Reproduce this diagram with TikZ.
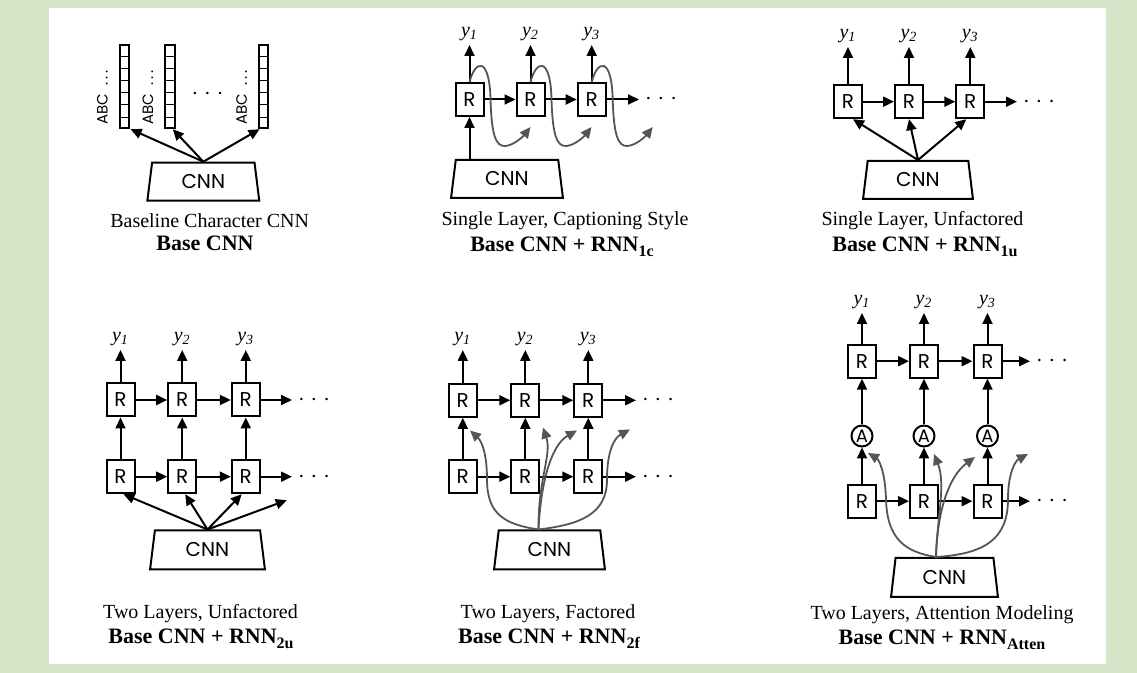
\documentclass[tikz,border=0pt]{standalone}
\usepackage{fontspec}
\setmainfont{Liberation Serif}
\newfontfamily\geo{Poppins}
\usetikzlibrary{arrows.meta,calc,shapes.geometric}
\definecolor{bggreen}{RGB}{213,227,199}
\definecolor{curvegray}{RGB}{85,85,85}
\newcommand\chaindots{$\cdot$\hspace{3pt}$\cdot$\hspace{3pt}$\cdot$}
\newcommand\bsub[1]{\raisebox{-2.5pt}{\fontsize{8}{9}\selectfont #1}}
\begin{document}
\begin{tikzpicture}[x=0.5pt,y=-0.5pt,
  arr/.style={-{Triangle[length=5.5pt,width=5pt]}, line width=1pt},
  garr/.style={-{Triangle[length=5.5pt,width=5pt]}, line width=0.9pt, color=curvegray},
  rbox/.style={draw, line width=1pt, minimum width=14pt, minimum height=16.5pt, inner sep=0pt, font=\geo\fontsize{10}{12}\selectfont},
  anode/.style={circle, draw, line width=1pt, minimum size=10.5pt, inner sep=0pt, font=\geo\fontsize{9}{10}\selectfont},
  cnnbox/.style={trapezium, draw, line width=1pt, trapezium left angle=82, trapezium right angle=82, trapezium stretches=true, minimum width=56pt, minimum height=19pt, inner sep=0pt, font=\geo\fontsize{10}{12}\selectfont},
  ylab/.style={font=\itshape\fontsize{10}{12}\selectfont, inner sep=0pt, outer sep=2pt, anchor=south},
  dotsn/.style={inner sep=0pt, outer sep=3pt, font=\fontsize{12}{14}\selectfont},
  captxt/.style={font=\fontsize{10}{12}\selectfont, inner sep=0pt},
  boldtxt/.style={font=\bfseries\fontsize{11}{13}\selectfont, inner sep=0pt},
  vec/.style={draw, line width=1pt, minimum width=4.8pt, minimum height=41.5pt, inner sep=0pt},
  abc/.style={rotate=90, font=\geo\fontsize{7.5}{9}\selectfont, inner sep=0pt}
]
\useasboundingbox (0,0) rectangle (1137,673);
\fill[bggreen] (0,0) rectangle (1137,673);
\fill[white] (49,8) rectangle (1106,664);

% ---------- Panel 1 ----------
\node[vec] (v1) at (124.6,86.7) {};
\node[vec] (v2) at (169.8,86.7) {};
\node[vec] (v3) at (263.6,86.7) {};
\foreach \v in {v1,v2,v3}{
  \foreach \k in {1,...,6}{
    \draw[line width=0.5pt] ($(\v.north west)!{\k/7}!(\v.south west)$) -- ($(\v.north east)!{\k/7}!(\v.south east)$);
  }
}
\node[abc] (t1) at (102.5,97.5) {ABC\ \ .\hspace{1.6pt}.\hspace{1.6pt}.};
\node[abc] (t2) at (147.8,97.5) {ABC\ \ .\hspace{1.6pt}.\hspace{1.6pt}.};
\node[abc] (t3) at (241.6,97.5) {ABC\ \ .\hspace{1.6pt}.\hspace{1.6pt}.};
\node[dotsn] (d1) at (207.5,94.3) {\chaindots};
\node[cnnbox] (c1) at (203.3,181.7) {CNN};
\draw[arr] (c1.north) -- ($(v1.south)+(6,0)$);
\draw[arr] (c1.north) -- ($(v2.south)+(3,0)$);
\draw[arr] (c1.north) -- ($(v3.south)+(-4,0)$);
\node[captxt] (cap1) at (209.7,221) {Baseline Character CNN};
\node[boldtxt] (bcap1) at (205,243) {Base CNN};

% ---------- Panel 2 ----------
\node[rbox] (R21) at (469.5,99.5) {R};
\node[rbox] (R22) at (530.5,99.5) {R};
\node[rbox] (R23) at (591.7,99.5) {R};
\node[ylab] (y21) at (469.5,45) {y\textsubscript{1}};
\node[ylab] (y22) at (530.5,45) {y\textsubscript{2}};
\node[ylab] (y23) at (591.7,45) {y\textsubscript{3}};
\node[dotsn] (d2) at (661,99.5) {\chaindots};
\foreach \a/\b in {R21/y21,R22/y22,R23/y23} \draw[arr] (\a.north) -- (\b.south);
\draw[arr] (R21.east) -- (R22.west);
\draw[arr] (R22.east) -- (R23.west);
\draw[arr] (R23.east) -- (d2.west);
\node[cnnbox] (c2) at (507,179) {CNN};
\draw[arr] (R21 |- c2.north) -- (R21.south);
\foreach \n in {R21,R22,R23}
  \draw[garr] (\n.north) .. controls +(6,-23) and +(-1,-42) .. ++(21,17)
     .. controls +(1,35) and +(-10,1) .. ++(15,47)
     .. controls +(9,-1) and +(-7,9) .. ++(25,-19);
\node[captxt] (cap2) at (565,221) {Single Layer, Captioning Style};
\node[boldtxt] (bcap2) at (562,247) {Base CNN + RNN\bsub{1c}};

% ---------- Panel 3 ----------
\node[rbox] (R31) at (848,101.7) {R};
\node[rbox] (R32) at (909,101.7) {R};
\node[rbox] (R33) at (970.3,101.7) {R};
\node[ylab] (y31) at (848,47) {y\textsubscript{1}};
\node[ylab] (y32) at (909,47) {y\textsubscript{2}};
\node[ylab] (y33) at (970.3,47) {y\textsubscript{3}};
\node[dotsn] (d3) at (1039,101.7) {\chaindots};
\foreach \a/\b in {R31/y31,R32/y32,R33/y33} \draw[arr] (\a.north) -- (\b.south);
\draw[arr] (R31.east) -- (R32.west);
\draw[arr] (R32.east) -- (R33.west);
\draw[arr] (R33.east) -- (d3.west);
\node[cnnbox, minimum width=55pt] (c3) at (918,180) {CNN};
\draw[arr] (c3.north) -- ($(R31.south)+(5,0)$);
\draw[arr] (c3.north) -- (R32.south);
\draw[arr] (c3.north) -- ($(R33.south)+(-4,0)$);
\node[captxt] (cap3) at (922.5,221) {Single Layer, Unfactored};
\node[boldtxt] (bcap3) at (925,247) {Base CNN + RNN\bsub{1u}};

% ---------- Panel 4 ----------
\foreach \i/\x in {1/120.5,2/182.2,3/245.8}{
  \node[rbox] (U4\i) at (\x,400) {R};
  \node[rbox] (L4\i) at (\x,476.7) {R};
  \node[ylab] (y4\i) at (\x,350) {y\textsubscript{\i}};
  \draw[arr] (U4\i.north) -- (y4\i.south);
  \draw[arr] (L4\i.north) -- (U4\i.south);
}
\node[dotsn] (du4) at (314,400) {\chaindots};
\node[dotsn] (dl4) at (314,476.7) {\chaindots};
\draw[arr] (U41.east) -- (U42.west);
\draw[arr] (U42.east) -- (U43.west);
\draw[arr] (U43.east) -- (du4.west);
\draw[arr] (L41.east) -- (L42.west);
\draw[arr] (L42.east) -- (L43.west);
\draw[arr] (L43.east) -- (dl4.west);
\node[cnnbox, minimum width=57.5pt, minimum height=19.5pt] (c4) at (207.5,550) {CNN};
\coordinate (f4) at ($(L43.south)+(41,6)$);
\draw[arr] (c4.north) -- ($(L41.south)+(3,0)$);
\draw[arr] (c4.north) -- ($(L42.south)+(3,0)$);
\draw[arr] (c4.north) -- ($(L43.south)+(-4,0)$);
\draw[arr] (c4.north) -- (f4);
\node[captxt] (cap4) at (200.5,614) {Two Layers, Unfactored};
\node[boldtxt] (bcap4) at (201,639) {Base CNN + RNN\bsub{2u}};

% ---------- Panel 5 ----------
\foreach \i/\x in {1/462.8,2/525.3,3/588.3}{
  \node[rbox] (U5\i) at (\x,400.3) {R};
  \node[rbox] (L5\i) at (\x,476.7) {R};
  \node[ylab] (y5\i) at (\x,350) {y\textsubscript{\i}};
  \draw[arr] (U5\i.north) -- (y5\i.south);
  \draw[arr] (L5\i.north) -- (U5\i.south);
}
\node[dotsn] (du5) at (658,400.3) {\chaindots};
\node[dotsn] (dl5) at (658,476.7) {\chaindots};
\draw[arr] (U51.east) -- (U52.west);
\draw[arr] (U52.east) -- (U53.west);
\draw[arr] (U53.east) -- (du5.west);
\draw[arr] (L51.east) -- (L52.west);
\draw[arr] (L52.east) -- (L53.west);
\draw[arr] (L53.east) -- (dl5.west);
\node[cnnbox, minimum width=55.5pt, minimum height=19.5pt] (c5) at (549.5,550) {CNN};
\coordinate (s5) at ($(c5.north)+(-11,0)$);
\draw[garr] (s5) .. controls +(-33.5,-5) and +(0,35) .. ++(-51.5,-50)
   .. controls +(0,-30) and +(10,9) .. ++(-17,-49);
\draw[garr] (s5) .. controls +(-0.5,-50) and +(9,27) .. ++(4.5,-102);
\draw[garr] (s5) .. controls +(2.5,-50) and +(-25,14) .. ++(38.5,-99);
\draw[garr] (s5) .. controls +(41.5,-5) and +(0,35) .. ++(68.5,-50)
   .. controls +(0,-30) and +(-15,8) .. ++(23,-50);
\node[captxt] (cap5) at (548,614) {Two Layers, Factored};
\node[boldtxt] (bcap5) at (549,639) {Base CNN + RNN\bsub{2f}};

% ---------- Panel 6 ----------
\foreach \i/\x in {1/862,2/924,3/987.5}{
  \node[rbox] (U6\i) at (\x,361.2) {R};
  \node[anode] (A6\i) at (\x,436) {A};
  \node[rbox] (L6\i) at (\x,501.2) {R};
  \node[ylab] (y6\i) at (\x,313) {y\textsubscript{\i}};
  \draw[arr] (U6\i.north) -- (y6\i.south);
  \draw[arr] (A6\i.north) -- (U6\i.south);
  \draw[arr] (L6\i.north) -- (A6\i.south);
}
\node[dotsn] (du6) at (1052,361.2) {\chaindots};
\node[dotsn] (dl6) at (1052,501.2) {\chaindots};
\draw[arr] (U61.east) -- (U62.west);
\draw[arr] (U62.east) -- (U63.west);
\draw[arr] (U63.east) -- (du6.west);
\draw[arr] (L61.east) -- (L62.west);
\draw[arr] (L62.east) -- (L63.west);
\draw[arr] (L63.east) -- (dl6.west);
\node[cnnbox, minimum width=53.5pt, minimum height=19.5pt] (c6) at (944.5,577.5) {CNN};
\coordinate (s6) at ($(c6.north)+(-8.5,0)$);
\draw[garr] (s6) .. controls +(-31,-5) and +(1,40) .. ++(-50,-58)
   .. controls +(-1,-30) and +(10,6) .. ++(-18,-46);
\draw[garr] (s6) .. controls +(1,-38) and +(12,30) .. ++(-2,-103);
\draw[garr] (s6) .. controls +(1,-43) and +(-27,20) .. ++(39,-100);
\draw[garr] (s6) .. controls +(49,-3) and +(0,40) .. ++(72,-58)
   .. controls +(0,-25) and +(-13,7) .. ++(20,-45);
\node[captxt] (cap6) at (942,615) {Two Layers, Attention Modeling};
\node[boldtxt] (bcap6) at (942,640) {Base CNN + RNN\bsub{Atten}};
\end{tikzpicture}
\end{document}
